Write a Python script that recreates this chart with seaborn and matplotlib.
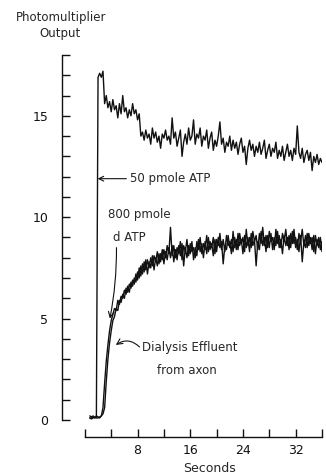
import numpy as np
import pandas as pd
import matplotlib
matplotlib.use("Agg")
import matplotlib.pyplot as plt
import seaborn as sns

# ---- data ----
t_start = 0.75   # seconds, first sample
t_step = 0.25    # seconds between samples

atp_50 = [
    0.1, 0.1, 0.15, 0.1, 0.15,
    16.9, 17.1, 16.9, 17.2, 15.6, 16.0, 15.4, 15.7, 15.2, 15.8, 15.3, 15.5, 14.9, 15.6,
    15.1, 16.0, 15.2, 15.4, 14.9, 15.3, 15.0, 15.6, 15.1, 15.3, 14.8, 15.1,
    14.0, 14.2, 13.8, 14.3, 13.9, 14.1, 13.6, 14.4, 13.9, 14.2, 13.7, 14.0, 13.4, 14.1,
    13.9, 14.3, 13.8, 14.0, 13.6, 14.9, 13.9, 14.2, 13.5, 13.9, 14.3, 13.0, 13.7, 14.1,
    13.6, 14.4, 13.8, 14.0, 14.8, 13.6, 14.1, 13.9, 14.4, 13.5, 14.0, 13.8, 14.3, 13.4,
    13.9, 14.2, 13.3, 13.8, 13.5, 14.0, 14.7, 13.6, 13.9, 13.2, 13.7, 13.5, 14.0, 13.3,
    13.8, 13.4, 13.7, 13.1, 13.6, 13.9, 13.2, 13.5, 12.6, 13.4, 13.8, 13.3, 13.6, 13.0,
    13.5, 13.2, 13.7, 13.1, 13.4, 13.8, 12.9, 13.3, 13.6, 13.0, 13.4, 13.2, 13.7, 12.9,
    13.3, 13.0, 13.5, 12.8, 13.2, 13.6, 13.0, 13.3, 12.8, 13.4, 13.1, 14.5, 13.2, 12.9,
    13.4, 12.7, 13.1, 13.3, 12.8, 13.2, 12.3, 13.0, 12.7, 13.1, 12.6, 12.9, 12.7,
]

datp_800 = [
    0.1, 0.05, 0.1, 0.15, 0.1, 0.1, 0.15, 0.2,
    0.6, 1.8, 2.9, 3.7, 4.4, 4.9, 5.2, 5.5, 5.4, 5.9, 5.7, 6.1, 6.0, 6.4, 6.2, 6.6,
    6.3, 6.8, 6.6, 7.0, 6.8, 7.3, 7.0, 7.6, 7.2, 7.8, 7.4, 7.9, 7.5, 8.0, 7.6, 8.1,
    7.8, 8.3, 7.7, 8.2, 7.9, 8.4, 8.0, 8.6, 8.2, 9.5, 8.1, 8.6, 8.0, 8.5, 8.2, 8.8,
    7.9, 8.6, 8.3, 8.9, 8.1, 8.7, 8.3, 8.5, 8.0, 8.8, 8.4, 9.0, 8.2, 8.7, 8.4, 9.1,
    8.3, 8.8, 8.5, 9.0, 8.2, 8.9, 8.6, 9.2, 8.4, 8.9, 8.3, 9.1, 8.6, 8.8, 8.2, 9.3,
    8.5, 8.9, 8.4, 9.2, 8.7, 9.0, 8.3, 9.4, 8.6, 9.0, 8.5, 9.3, 8.8, 9.1, 8.4, 9.2,
    8.7, 9.5, 8.6, 9.1, 8.5, 9.3, 8.8, 9.0, 8.4, 9.4, 8.7, 9.1, 8.5, 9.2, 8.8, 9.4,
    8.6, 9.1, 8.5, 9.3, 8.7, 9.0, 8.4, 9.2, 8.8, 9.4, 8.6, 9.1, 8.5, 9.2, 8.7, 9.0,
    8.3, 9.1, 8.6, 9.0, 8.4, 8.8,
]

dialysis = [
    0.2, 0.15, 0.2, 0.1, 0.2, 0.15, 0.1, 0.2, 0.3,
    0.6, 1.9, 3.0, 3.8, 4.4, 4.9, 5.1, 5.5, 5.4, 5.9, 5.8, 6.2, 6.0, 6.5, 6.3, 6.7,
    6.5, 6.9, 6.7, 7.2, 6.9, 7.5, 7.1, 7.7, 7.3, 7.9, 7.2, 7.8, 7.5, 8.1, 7.4, 8.0,
    7.6, 8.2, 7.8, 8.4, 7.7, 8.3, 7.9, 8.5, 8.0, 8.6, 7.8, 8.4, 7.9, 8.6, 8.1, 8.7,
    7.6, 8.5, 8.0, 8.6, 8.2, 8.8, 7.9, 8.5, 8.1, 8.9, 8.3, 8.7, 8.0, 8.8, 8.2, 9.0,
    8.4, 8.7, 8.1, 8.9, 8.3, 9.0, 8.5, 8.8, 7.7, 8.6, 8.4, 9.1, 8.5, 8.9, 8.3, 9.0,
    8.4, 9.2, 8.6, 8.9, 8.2, 9.1, 8.5, 9.0, 8.3, 9.2, 8.6, 8.9, 7.6, 8.8, 8.4, 9.3,
    8.6, 9.0, 8.3, 9.1, 8.5, 9.2, 8.4, 9.0, 8.6, 9.3, 8.5, 8.9, 8.2, 9.1, 8.6, 9.0,
    8.4, 9.2, 8.7, 9.4, 8.5, 8.9, 8.3, 9.1, 7.8, 8.8, 8.5, 9.2, 8.6, 9.0, 8.4, 9.1,
    8.2, 8.9, 8.5, 9.0, 8.3,
]

x_ticks = [0, 4, 8, 12, 16, 20, 24, 28, 32, 36]
x_tick_labels = ["", "", "8", "", "16", "", "24", "", "32", ""]
y_ticks = list(range(0, 19))
y_tick_labels = ["0", "", "", "", "", "5", "", "", "", "", "10", "", "", "", "", "15", "", "", ""]

# ---- long table ----
frames = []
for name, vals in [("atp", atp_50), ("datp", datp_800), ("dialysis", dialysis)]:
    tt = t_start + t_step * np.arange(len(vals))
    frames.append(pd.DataFrame({"time": tt, "output": vals, "trace": name}))
df = pd.concat(frames, ignore_index=True)

# ---- figure ----
sns.set_style("ticks")
plt.rcParams["font.family"] = ["DejaVu Sans"]

W, H = 326, 476
fig = plt.figure(figsize=(W / 100, H / 100), dpi=100)
ax = fig.add_axes([62 / W, (H - 437) / H, (322 - 62) / W, (437 - 55) / H])

sns.lineplot(data=df, x="time", y="output", hue="trace",
             palette={"atp": "#111111", "datp": "#111111", "dialysis": "#111111"},
             estimator=None, sort=False, lw=1.0, legend=False, ax=ax)

ax.set_xlim(-3.47, 36)
ax.set_ylim(-0.84, 18)
ax.set_xlabel("")
ax.set_ylabel("")
ax.set_xticks(x_ticks)
ax.set_xticklabels(x_tick_labels)
ax.set_yticks(y_ticks)
ax.set_yticklabels(y_tick_labels)
ax.tick_params(direction="in", length=6, width=1.0, labelsize=9, color="#111111",
               labelcolor="#111111")
ax.tick_params(axis="y", pad=10)
ax.tick_params(axis="x", pad=5)

for s in ["top", "right"]:
    ax.spines[s].set_visible(False)
ax.spines["left"].set_bounds(0, 18)
ax.spines["bottom"].set_bounds(0, 36)
for s in ["left", "bottom"]:
    ax.spines[s].set_linewidth(1.0)
    ax.spines[s].set_color("#111111")

fs = 8.5
arrow_kw = dict(arrowstyle="->", lw=0.8, color="#111111", shrinkA=0, shrinkB=0)

ax.annotate("50 pmole ATP", xy=(1.95, 11.9), xytext=(6.8, 11.9),
            ha="left", va="center", fontsize=fs,
            arrowprops=dict(arrow_kw))
ax.text(3.5, 10.15, "800 pmole", ha="left", va="center", fontsize=fs)
ax.text(4.2, 9.0, "d ATP", ha="left", va="center", fontsize=fs)
ax.annotate("", xy=(3.8, 5.0), xytext=(4.8, 8.5),
            arrowprops=dict(arrow_kw, connectionstyle="arc3,rad=-0.05"))
ax.text(8.6, 3.55, "Dialysis Effluent", ha="left", va="center", fontsize=fs)
ax.text(10.9, 2.46, "from axon", ha="left", va="center", fontsize=fs)
ax.annotate("", xy=(4.7, 3.7), xytext=(8.3, 3.6),
            arrowprops=dict(arrow_kw, connectionstyle="arc3,rad=0.4"))

fig.text(61 / W, 1 - 17 / H, "Photomultiplier", ha="center", va="center", fontsize=8.5)
fig.text(60 / W, 1 - 33 / H, "Output", ha="center", va="center", fontsize=8.5)
fig.text(210 / W, 1 - 468 / H, "Seconds", ha="center", va="center", fontsize=9)

fig.savefig("out.png", dpi=100)
